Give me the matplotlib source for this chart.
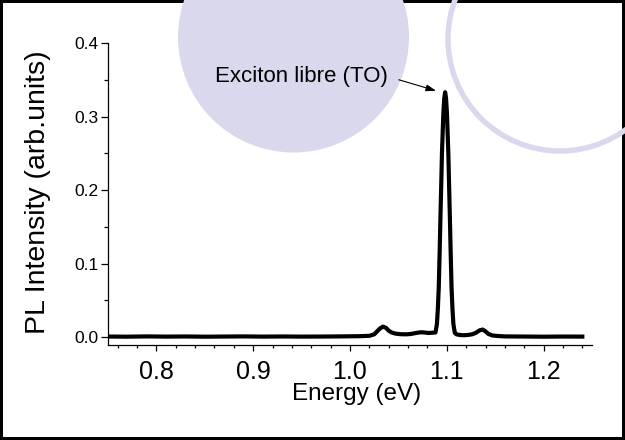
import numpy as np
import matplotlib
matplotlib.use('Agg')
import matplotlib.pyplot as plt
from matplotlib.patches import Circle
from matplotlib.ticker import MultipleLocator

plt.rc('font', family='Liberation Sans')

# PL spectrum
energy = [0.750, 0.770, 0.790, 0.810, 0.830, 0.850, 0.870, 0.890, 0.910, 0.930,
          0.950, 0.970, 0.990, 1.010, 1.020, 1.025, 1.028, 1.031, 1.034, 1.037,
          1.040, 1.043, 1.047, 1.052, 1.058, 1.063, 1.068, 1.073, 1.077, 1.081,
          1.085, 1.0883, 1.0898, 1.0908, 1.0917, 1.0926, 1.0935, 1.0943, 1.0950,
          1.0958, 1.0965, 1.0974, 1.0983, 1.0992, 1.1001, 1.1008, 1.1016, 1.1023,
          1.1031, 1.1040, 1.1049, 1.1058, 1.1068, 1.1083, 1.110, 1.114, 1.118,
          1.122, 1.126, 1.130, 1.134, 1.137, 1.140, 1.143, 1.147, 1.152, 1.160,
          1.180, 1.200, 1.220, 1.240]
intensity = [0.0010, 0.0008, 0.0012, 0.0009, 0.0011, 0.0008, 0.0010, 0.0012, 0.0009, 0.0011,
             0.0009, 0.0010, 0.0012, 0.0015, 0.0020, 0.0040, 0.0080, 0.0120, 0.0145, 0.0130,
             0.0090, 0.0065, 0.0050, 0.0042, 0.0040, 0.0045, 0.0058, 0.0068, 0.0065, 0.0058,
             0.0062, 0.0065, 0.018, 0.040, 0.068, 0.115, 0.167, 0.210, 0.250,
             0.280, 0.306, 0.325, 0.333, 0.325, 0.306, 0.280, 0.250, 0.210,
             0.167, 0.115, 0.068, 0.040, 0.018, 0.006, 0.004, 0.0030, 0.0028,
             0.0032, 0.0040, 0.0060, 0.0095, 0.0105, 0.0080, 0.0045, 0.0025, 0.0018, 0.0012,
             0.0010, 0.0008, 0.0010, 0.0009]

lavender = '#d9d8ec'

fig = plt.figure(figsize=(6.25, 4.4), dpi=100)
fig.patch.set_edgecolor('black')
fig.patch.set_linewidth(4.3)

# decorative circles behind the plot
fig.patches.append(Circle((2.935, 4.03), 1.155, transform=fig.dpi_scale_trans,
                          facecolor=lavender, edgecolor='none', zorder=-2))
fig.patches.append(Circle((5.60, 4.01), 1.12, transform=fig.dpi_scale_trans,
                          facecolor='none', edgecolor=lavender, linewidth=3.9, zorder=-2))

ax = fig.add_axes([0.1728, 0.2159, 0.9472 - 0.1728, 0.9023 - 0.2159])
ax.patch.set_alpha(0)

ax.plot(energy, intensity, color='black', lw=3.0, solid_joinstyle='round')

ax.set_xlim(0.75, 1.25)
ax.set_ylim(-0.0105, 0.4)
ax.xaxis.set_major_locator(MultipleLocator(0.1))
ax.xaxis.set_minor_locator(MultipleLocator(0.02))
ax.yaxis.set_major_locator(MultipleLocator(0.1))
ax.yaxis.set_minor_locator(MultipleLocator(0.05))

ax.spines['right'].set_visible(False)
ax.spines['top'].set_visible(False)
ax.spines['left'].set_linewidth(0.9)
ax.spines['bottom'].set_linewidth(0.9)

ax.tick_params(axis='x', which='major', length=4.5, width=0.9, labelsize=18, pad=6)
ax.tick_params(axis='x', which='minor', length=2.5, width=0.9)
ax.tick_params(axis='y', which='major', length=5, width=0.9, labelsize=12.5, pad=2)
ax.tick_params(axis='y', which='minor', length=3, width=0.9)

ax.set_xlabel('Energy (eV)', fontsize=17.5)
ax.xaxis.set_label_coords(0.514, -0.125)
ax.set_ylabel('PL Intensity (arb.units)', fontsize=20.5)
ax.yaxis.set_label_coords(-0.118, 0.505)

ax.text(0.95, 0.354, 'Exciton libre (TO)', fontsize=16, ha='center', va='center')
ax.annotate('', xy=(1.0889, 0.335), xytext=(1.0505, 0.350),
            arrowprops=dict(arrowstyle='-|>,head_length=0.6,head_width=0.2',
                            color='black', lw=0.8, shrinkA=0, shrinkB=0))

plt.savefig('out.png', dpi=100)
